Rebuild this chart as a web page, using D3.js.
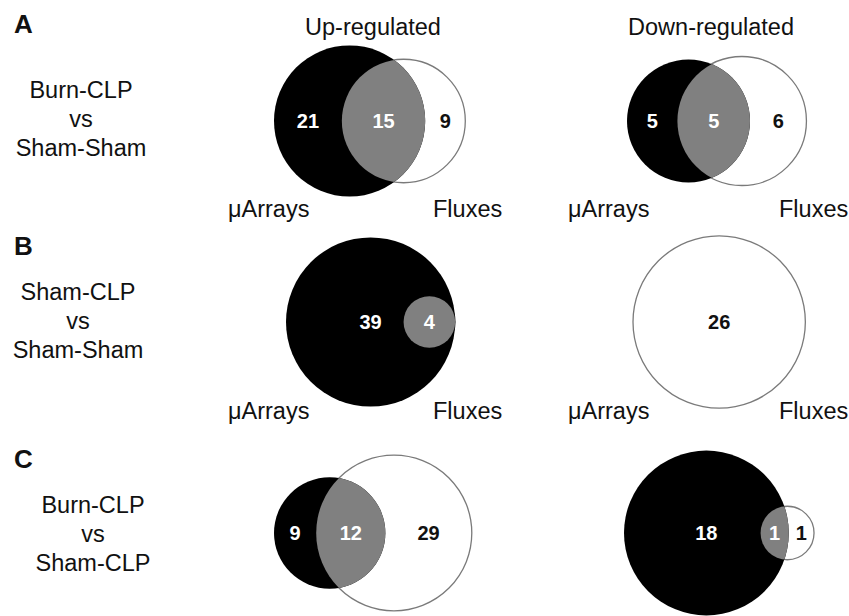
<!DOCTYPE html>
<html>
<head>
<meta charset="utf-8">
<script src="https://cdn.jsdelivr.net/npm/d3@7"></script>
<style>
  html, body { margin: 0; padding: 0; background: #fff; }
  svg { display: block; font-family: "Liberation Sans", Arial, Helvetica, sans-serif; }
</style>
</head>
<body>
<svg id="chart" width="849" height="616"></svg>
<script>
// ---- Data: gene/flux counts per comparison (rows) and direction (columns) ----
const rowLetters = ["A", "B", "C"];
const rowLabels = [
  ["Burn-CLP", "vs", "Sham-Sham"],
  ["Sham-CLP", "vs", "Sham-Sham"],
  ["Burn-CLP", "vs", "Sham-CLP"]
];
const directions = ["Up-regulated", "Down-regulated"];
const setNames = ["\u03bcArrays", "Fluxes"];

// counts in each Venn region: [row A, row B, row C]
const arraysOnlyUp   = [21, 39, 9];
const overlapUp      = [15, 4, 12];
const fluxesOnlyUp   = [9, 0, 29];
const arraysOnlyDown = [5, 0, 18];
const overlapDown    = [5, 0, 1];
const fluxesOnlyDown = [6, 26, 1];

// ---- Layout ----
const rowCenterY = [121, 322, 533];
const diagramLeftX = [[274, 627], [286, 633], [274, 624]];
const radiusPerRootCount = [[12.6, 19.45], [12.9, 16.9], [12.15, 18.9]];
const rowLabelX = [81, 78, 93];
const rowLabelBaseline = [98, 300, 513];
const rowLabelStep = 29;
const letterBaseline = [33, 255, 468];
const titleX = [373, 711];
const titleBaseline = 35;
const setLabelX = [[228, 433], [568, 779]];
const setLabelBaseline = [217, 419];

const BLACK = "#000000", GREY = "#808080", OUTLINE = "#7a7a7a";

const svg = d3.select("#chart");
const defs = svg.append("defs");

// area of intersection of two circles
function lensArea(r1, r2, d) {
  if (d >= r1 + r2) return 0;
  if (d <= Math.abs(r1 - r2)) return Math.PI * Math.min(r1, r2) ** 2;
  const a1 = Math.acos((d * d + r1 * r1 - r2 * r2) / (2 * d * r1));
  const a2 = Math.acos((d * d + r2 * r2 - r1 * r1) / (2 * d * r2));
  const t = 0.5 * Math.sqrt((-d + r1 + r2) * (d + r1 - r2) * (d - r1 + r2) * (d + r1 + r2));
  return r1 * r1 * a1 + r2 * r2 * a2 - t;
}
// centre distance giving the requested overlap area
function solveDistance(r1, r2, area) {
  if (r1 === 0 || r2 === 0 || area <= 0) return r1 + r2;
  let lo = Math.abs(r1 - r2), hi = r1 + r2;
  if (area >= Math.PI * Math.min(r1, r2) ** 2 - 1e-9) return lo;
  for (let i = 0; i < 80; i++) {
    const mid = (lo + hi) / 2;
    if (lensArea(r1, r2, mid) > area) lo = mid; else hi = mid;
  }
  return (lo + hi) / 2;
}

function drawVenn(row, col, aOnly, both, fOnly) {
  const k = radiusPerRootCount[row][col];
  const rScale = d3.scaleSqrt().domain([0, 1]).range([0, k]);
  const r1 = rScale(aOnly + both);
  const r2 = rScale(fOnly + both);
  const d = solveDistance(r1, r2, Math.PI * k * k * both);
  const cy = rowCenterY[row];
  const cx1 = diagramLeftX[row][col] + r1;
  const cx2 = cx1 + d;
  const g = svg.append("g").attr("class", `venn r${row} c${col}`);
  const clipId = `clip-${row}-${col}`;

  defs.append("clipPath").attr("id", clipId)
    .append("circle").attr("cx", cx1).attr("cy", cy).attr("r", r1);

  // Fluxes set (outlined white)
  g.append("circle").attr("cx", cx2).attr("cy", cy).attr("r", r2)
    .attr("fill", "#fff").attr("stroke", OUTLINE).attr("stroke-width", 1.3);
  // μArrays set (black)
  if (r1 > 0) {
    g.append("circle").attr("cx", cx1).attr("cy", cy).attr("r", r1).attr("fill", BLACK);
    // shared region (grey lens)
    if (both > 0) {
      g.append("circle").attr("cx", cx2).attr("cy", cy).attr("r", r2)
        .attr("fill", GREY).attr("clip-path", `url(#${clipId})`);
    }
  }

  const fluxLeft = cx2 - r2;
  const labels = [];
  if (aOnly > 0) {
    const x = fluxLeft > cx1 ? cx1 : ((cx1 - r1) + fluxLeft) / 2;
    labels.push({ x, v: aOnly, fill: "#fff" });
  }
  if (both > 0) {
    const x = (Math.max(cx1 - r1, fluxLeft) + Math.min(cx1 + r1, cx2 + r2)) / 2;
    labels.push({ x, v: both, fill: "#fff" });
  }
  if (fOnly > 0) {
    const x = r1 === 0 ? cx2 : ((cx1 + r1) + (cx2 + r2)) / 2;
    labels.push({ x, v: fOnly, fill: "#111" });
  }
  g.selectAll("text.count").data(labels).join("text")
    .attr("class", "count")
    .attr("x", l => l.x).attr("y", cy).attr("dy", "0.36em")
    .attr("text-anchor", "middle")
    .attr("font-size", 20).attr("font-weight", "bold")
    .attr("fill", l => l.fill)
    .text(l => l.v);
}

for (let row = 0; row < 3; row++) {
  drawVenn(row, 0, arraysOnlyUp[row], overlapUp[row], fluxesOnlyUp[row]);
  drawVenn(row, 1, arraysOnlyDown[row], overlapDown[row], fluxesOnlyDown[row]);
}

// Column titles
svg.selectAll("text.title").data(directions).join("text")
  .attr("class", "title")
  .attr("x", (t, i) => titleX[i]).attr("y", titleBaseline)
  .attr("text-anchor", "middle").attr("font-size", 23.5).attr("fill", "#111")
  .text(t => t);

// Panel letters
svg.selectAll("text.letter").data(rowLetters).join("text")
  .attr("class", "letter")
  .attr("x", 14).attr("y", (t, i) => letterBaseline[i])
  .attr("font-size", 26).attr("font-weight", "bold").attr("fill", "#111")
  .text(t => t);

// Comparison labels
rowLabels.forEach((lines, row) => {
  svg.append("text")
    .attr("text-anchor", "middle").attr("font-size", 23.5).attr("fill", "#111")
    .selectAll("tspan").data(lines).join("tspan")
    .attr("x", rowLabelX[row])
    .attr("y", (t, i) => rowLabelBaseline[row] + i * rowLabelStep)
    .text(t => t);
});

// Set names beneath rows A and B
setLabelBaseline.forEach(y => {
  setLabelX.forEach(xs => {
    setNames.forEach((name, i) => {
      svg.append("text").attr("x", xs[i]).attr("y", y)
        .attr("font-size", 23.5).attr("fill", "#111").text(name);
    });
  });
});
</script>
</body>
</html>
